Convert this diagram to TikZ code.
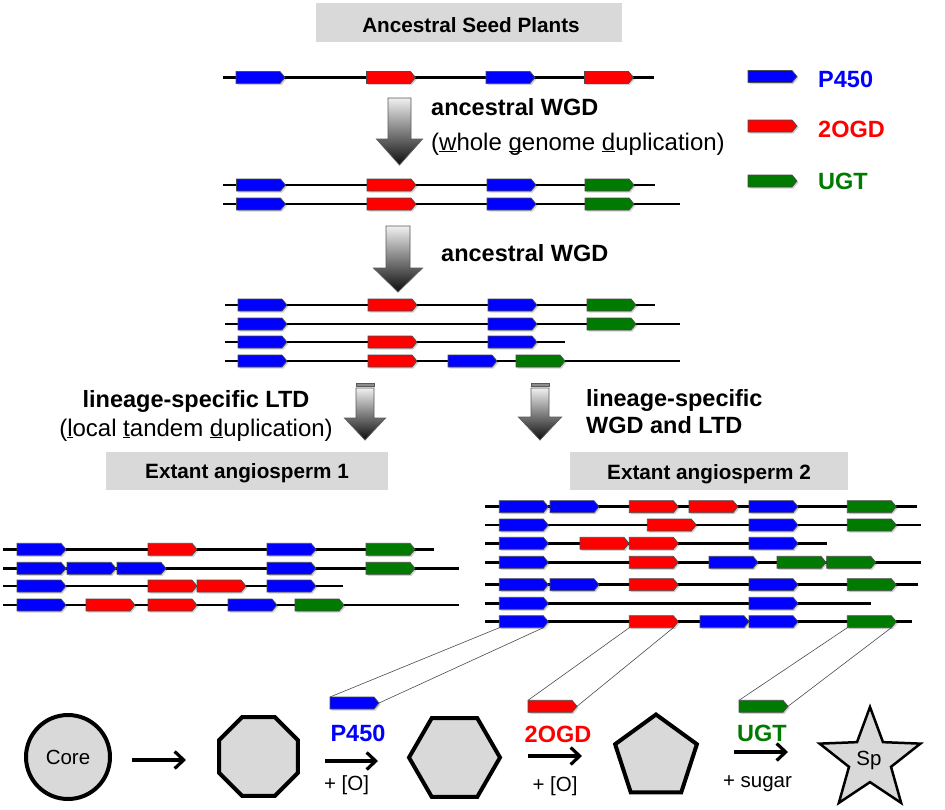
\documentclass[tikz,border=0pt]{standalone}
\usepackage{fontspec}
\setmainfont{Liberation Sans}
\usetikzlibrary{arrows.meta,shapes.geometric}
\definecolor{gblue}{RGB}{0,0,255}
\definecolor{gred}{RGB}{255,0,0}
\definecolor{ggreen}{RGB}{0,122,0}
\definecolor{boxgray}{RGB}{217,217,217}
\newcommand{\genebox}[3]{%
 \fill[black,opacity=0.18] (#1+1.5,#2-4.5) -- ++(44,0) -- ++(5,6) -- ++(-5,6) -- ++(-44,0) -- cycle;
 \draw[genestyle,fill=#3] (#1,#2-6) -- ++(44,0) -- ++(5,6) -- ++(-5,6) -- ++(-44,0) -- cycle;}
\newcommand{\chrom}[3]{\draw[chromline] (#1,#3) -- (#2,#3);}
\newcommand{\bigarrow}[6]{%
 \draw[bigarr] (#1-#5,#2) -- (#1+#5,#2) -- (#1+#5,#3) -- (#1+#6,#3) -- (#1,#4) -- (#1-#6,#3) -- (#1-#5,#3) -- cycle;}
\newcommand{\myul}[1]{\underline{\smash{#1}}}
\tikzset{
 genestyle/.style={draw=black!70,line width=0.7},
 chromline/.style={black,line width=2.6},
 bigarr/.style={draw=black!65,line width=0.8,top color=black!6,bottom color=black!95},
 ttl/.style={font=\fontsize{20.7}{24}\selectfont\bfseries,inner sep=0},
 lbl/.style={font=\fontsize{23.5}{28}\selectfont\bfseries,inner sep=0},
 lblreg/.style={font=\fontsize{24}{28}\selectfont,inner sep=0},
 smalltxt/.style={font=\fontsize{20.5}{24}\selectfont,inner sep=0},
 molshape/.style={draw=black,line width=4,fill=boxgray,inner sep=0},
 conn/.style={draw=black!70,line width=0.6},
 botarr/.style={line width=3.2,-{Straight Barb[length=9,width=17,line width=3.2]}},
}
\begin{document}
\begin{tikzpicture}[x=1pt,y=-1pt]
\useasboundingbox (0,0) rectangle (945,809);
\fill[white] (0,0) rectangle (945,809);

% ---------- title boxes
\fill[boxgray] (316,2.7) rectangle (622,41.7);
\node[ttl,anchor=base] (t0) at (471,32) {Ancestral Seed Plants};
\fill[boxgray] (106,452) rectangle (388,489.5);
\node[ttl,anchor=base] (t1) at (247,478) {Extant angiosperm 1};
\fill[boxgray] (570,452) rectangle (848,489.5);
\node[ttl,anchor=base] (t2) at (709,479) {Extant angiosperm 2};

% ---------- legend
\genebox{748}{76.5}{gblue}
\genebox{748}{126}{gred}
\genebox{748}{181}{ggreen}
\node[lbl,text=gblue,anchor=base west] (lp) at (818,87.3) {P450};
\node[lbl,text=gred,anchor=base west] (lo) at (818,137.3) {2OGD};
\node[lbl,text=ggreen,anchor=base west] (lu) at (818,189) {UGT};

% ---------- ancestral row
\chrom{222.5}{653.5}{77.5}
\foreach \x/\c in {236/gblue,366.5/gred,486/gblue,584.5/gred}{\genebox{\x}{77.5}{\c}}

% ---------- arrow 1
\bigarrow{399.5}{98}{139}{165}{11.5}{23}
\node[lbl,anchor=base west] (w1) at (431,115) {ancestral WGD};
\node[lblreg,anchor=base west] (w1b) at (431,150) {(\myul{w}hole \myul{g}enome \myul{d}uplication)};

% ---------- after WGD 1
\chrom{223}{655}{185}
\chrom{223}{680}{204}
\foreach \y in {185,204}{
 \foreach \x/\c in {236.5/gblue,367/gred,487/gblue,585/ggreen}{\genebox{\x}{\y}{\c}}}

% ---------- arrow 2
\bigarrow{398}{226}{268}{292}{12}{24.5}
\node[lbl,anchor=base west] (w2) at (441,261.5) {ancestral WGD};

% ---------- after WGD 2
\chrom{225}{655}{305}
\chrom{225}{680}{324}
\chrom{225}{565}{342}
\chrom{225}{680}{361}
\foreach \x/\c in {238/gblue,368/gred,488/gblue,587/ggreen}{\genebox{\x}{305}{\c}}
\foreach \x/\c in {238/gblue,488/gblue,587/ggreen}{\genebox{\x}{324}{\c}}
\foreach \x/\c in {238/gblue,368/gred,488/gblue}{\genebox{\x}{342}{\c}}
\foreach \x/\c in {238/gblue,368/gred,448/gblue,516/ggreen}{\genebox{\x}{361}{\c}}

% ---------- lineage arrows
\draw[draw=black!65,line width=0.8,fill=black!45] (356,383) rectangle (374,386.3);
\bigarrow{365}{388}{418}{440}{9}{20.5}
\draw[draw=black!65,line width=0.8,fill=black!45] (531,383) rectangle (549,386.3);
\bigarrow{540}{388}{417}{440}{9}{21.5}
\node[lbl,anchor=base] (ll1) at (196,407) {lineage-specific LTD};
\node[lblreg,anchor=base] (ll2) at (196,436) {(\myul{l}ocal \myul{t}andem \myul{d}uplication)};
\node[lbl,anchor=base west] (lr1) at (586,406) {lineage-specific};
\node[lbl,anchor=base west] (lr2) at (586,433) {WGD and LTD};

% ---------- extant angiosperm 1
\chrom{3}{434}{549.3}
\chrom{3}{459}{568.3}
\chrom{3}{343}{586}
\chrom{3}{459}{605}
\foreach \x/\c in {17/gblue,148/gred,267/gblue,366/ggreen}{\genebox{\x}{549.3}{\c}}
\foreach \x/\c in {17/gblue,67/gblue,117/gblue,267/gblue,366/ggreen}{\genebox{\x}{568.3}{\c}}
\foreach \x/\c in {17/gblue,148/gred,197/gred,267/gblue}{\genebox{\x}{586}{\c}}
\foreach \x/\c in {17/gblue,86/gred,148/gred,228/gblue,295/ggreen}{\genebox{\x}{605}{\c}}

% ---------- extant angiosperm 2
\chrom{485}{917}{506.7}
\chrom{485}{921}{525}
\chrom{485}{827}{543.3}
\chrom{485}{921}{562.3}
\chrom{485}{918}{584.7}
\chrom{485}{871}{603.3}
\chrom{485}{912}{621.7}

% connectors (below genes)
\coordinate (bA1) at (499.3,627.7);
\coordinate (bA2) at (543.3,627.7);
\coordinate (rC1) at (629.3,627.7);
\coordinate (rC2) at (673.3,627.7);
\coordinate (gF1) at (847.3,627.7);
\coordinate (gF2) at (891.3,627.7);
\coordinate (sb1) at (330,697);
\coordinate (sb2) at (379,703);
\coordinate (sr1) at (528,700.3);
\coordinate (sr2) at (577,706.3);
\coordinate (sg1) at (739,700.3);
\coordinate (sg2) at (788,706.3);
\draw[conn] (bA1) -- (sb1);
\draw[conn] (bA2) -- (sb2);
\draw[conn] (rC1) -- (sr1);
\draw[conn] (rC2) -- (sr2);
\draw[conn] (gF1) -- (sg1);
\draw[conn] (gF2) -- (sg2);

\foreach \x/\c in {499.3/gblue,550/gblue,629.3/gred,689/gred,749/gblue,847.3/ggreen}{\genebox{\x}{506.7}{\c}}
\foreach \x/\c in {499.3/gblue,647.3/gred,749/gblue,847.3/ggreen}{\genebox{\x}{525}{\c}}
\foreach \x/\c in {499.3/gblue,580/gred,629.3/gred,749/gblue}{\genebox{\x}{543.3}{\c}}
\foreach \x/\c in {499.3/gblue,629.3/gred,709/gblue,777/ggreen,826.7/ggreen}{\genebox{\x}{562.3}{\c}}
\foreach \x/\c in {499.3/gblue,550/gblue,629.3/gred,749/gblue,847.3/ggreen}{\genebox{\x}{584.7}{\c}}
\foreach \x/\c in {499.3/gblue,749/gblue}{\genebox{\x}{603.3}{\c}}
\foreach \x/\c in {499.3/gblue,629.3/gred,700/gblue,749/gblue,847.3/ggreen}{\genebox{\x}{621.7}{\c}}

% ---------- bottom pathway
\genebox{330}{703}{gblue}
\genebox{528}{706.3}{gred}
\genebox{739}{706.3}{ggreen}

\node[molshape,circle,minimum size=84] (core) at (68,757) {};
\node[smalltxt] at (core.center) {Core};
\node[molshape,regular polygon,regular polygon sides=8,minimum size=85.4] (oct) at (258.5,756.5) {};
\node[molshape,regular polygon,regular polygon sides=6,minimum size=91] (hex) at (454.5,757.5) {};
\node[molshape,regular polygon,regular polygon sides=5,minimum size=86] (pent) at (656,757.5) {};
\node[draw=black,line width=2.5,fill=boxgray,star,star points=5,star point ratio=2.4,minimum size=106,inner sep=0] (star) at (870,760) {};
\node[smalltxt] (sp) at (869,760) {Sp};

\coordinate (a1s) at (132,760); \coordinate (a1e) at (186,760);
\coordinate (a2s) at (325,761); \coordinate (a2e) at (378,761);
\coordinate (a3s) at (528,756); \coordinate (a3e) at (582,756);
\coordinate (a4s) at (734,752); \coordinate (a4e) at (788,752);
\draw[botarr] (a1s) -- (a1e);
\draw[botarr] (a2s) -- (a2e);
\draw[botarr] (a3s) -- (a3e);
\draw[botarr] (a4s) -- (a4e);

\node[lbl,text=gblue,anchor=base] (bp) at (358,741.5) {P450};
\node[lbl,text=gred,anchor=base] (bo) at (558,742.5) {2OGD};
\node[lbl,text=ggreen,anchor=base] (bu) at (762,741.7) {UGT};
\node[smalltxt,anchor=base] (o1) at (346.5,790) {+ [O]};
\node[smalltxt,anchor=base] (o2) at (555,791.5) {+ [O]};
\node[smalltxt,anchor=base] (sg) at (757.5,787) {+ sugar};
\end{tikzpicture}
\end{document}
